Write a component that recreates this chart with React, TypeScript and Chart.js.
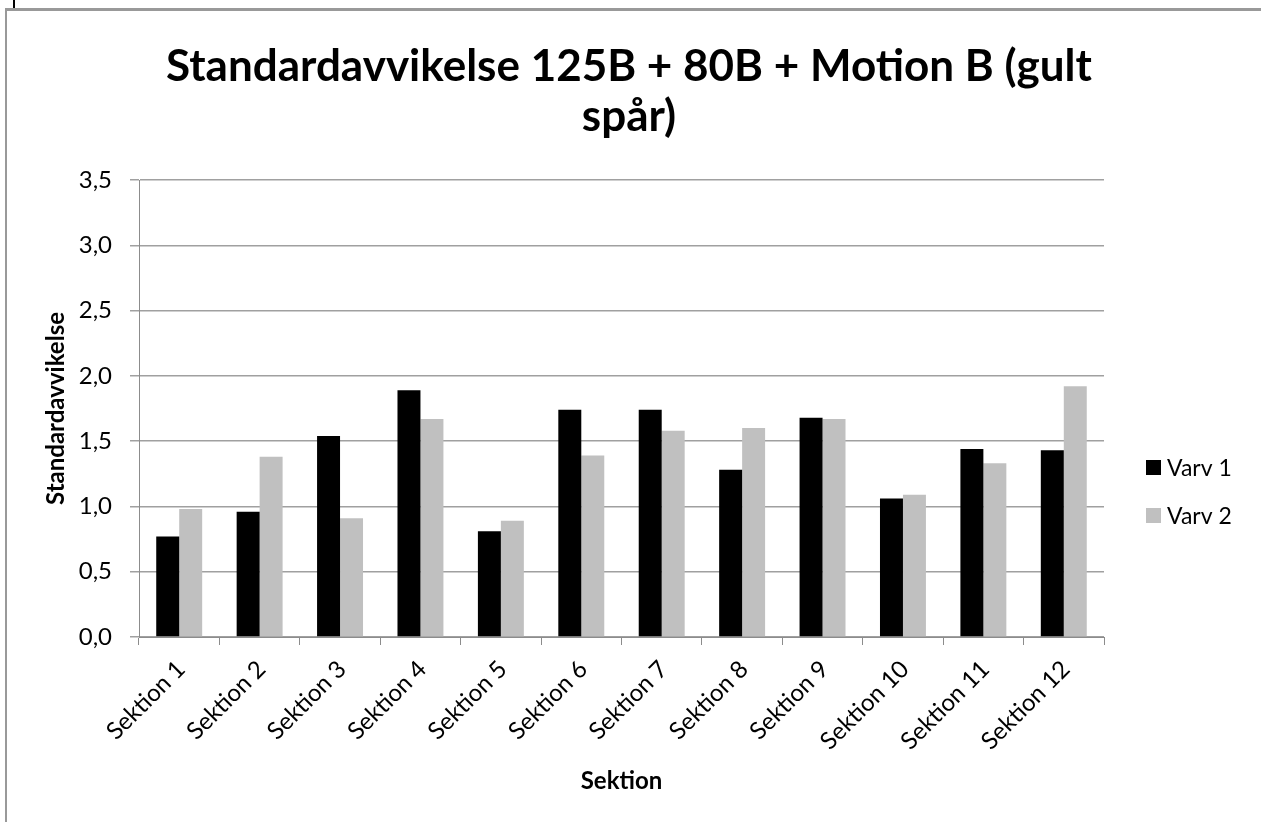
import React, { useEffect, useRef } from "react";
import { Chart, registerables } from "chart.js";

Chart.register(...registerables);

const categories = [
  "Sektion 1", "Sektion 2", "Sektion 3", "Sektion 4", "Sektion 5", "Sektion 6",
  "Sektion 7", "Sektion 8", "Sektion 9", "Sektion 10", "Sektion 11", "Sektion 12",
];
const varv1 = [0.77, 0.96, 1.54, 1.89, 0.81, 1.74, 1.74, 1.28, 1.68, 1.06, 1.44, 1.43];
const varv2 = [0.98, 1.38, 0.91, 1.67, 0.89, 1.39, 1.58, 1.6, 1.67, 1.09, 1.33, 1.92];
const seriesNames = ["Varv 1", "Varv 2"];
const seriesColors = ["#000000", "#c0c0c0"];
const titleLines = ["Standardavvikelse 125B + 80B + Motion B (gult", "spår)"];
const yTitle = "Standardavvikelse";
const xTitle = "Sektion";

const FONT = "Lato, 'Open Sans', sans-serif";

const titlePlugin = {
  id: "customTitle",
  afterDraw(chart: any) {
    const ctx = chart.ctx;
    ctx.save();
    ctx.fillStyle = "#000";
    ctx.font = `bold 44px ${FONT}`;
    ctx.textAlign = "center";
    ctx.textBaseline = "alphabetic";
    titleLines.forEach((line, i) => {
      ctx.fillText(line, 629, 81 + i * 50);
    });
    ctx.restore();
  },
};

const legendPlugin = {
  id: "customLegend",
  afterDraw(chart: any) {
    const ctx = chart.ctx;
    ctx.save();
    ctx.font = `23px ${FONT}`;
    ctx.textAlign = "left";
    ctx.textBaseline = "alphabetic";
    chart.data.datasets.forEach((ds: any, i: number) => {
      const y = 460 + i * 48;
      ctx.fillStyle = ds.backgroundColor;
      ctx.fillRect(1146, y, 15, 15);
      ctx.fillStyle = "#000";
      ctx.fillText(ds.label, 1167, y + 16);
    });
    ctx.restore();
  },
};

export default function App() {
  const canvasRef = useRef<HTMLCanvasElement | null>(null);

  useEffect(() => {
    if (!canvasRef.current) return;
    const chart = new Chart(canvasRef.current, {
      type: "bar",
      data: {
        labels: categories,
        datasets: [
          {
            label: seriesNames[0],
            data: varv1,
            backgroundColor: seriesColors[0],
            categoryPercentage: 2 / 3.5,
            barPercentage: 1,
          },
          {
            label: seriesNames[1],
            data: varv2,
            backgroundColor: seriesColors[1],
            categoryPercentage: 2 / 3.5,
            barPercentage: 1,
          },
        ],
      },
      options: {
        animation: false,
        responsive: false,
        maintainAspectRatio: false,
        layout: { padding: { top: 180, right: 157, bottom: 0, left: 0 } },
        plugins: {
          legend: { display: false },
          title: { display: false },
          tooltip: { enabled: false },
        },
        scales: {
          x: {
            type: "category",
            offset: true,
            grid: {
              display: true,
              drawOnChartArea: false,
              drawTicks: true,
              tickLength: 8,
              color: "#8c8c8c",
              offset: true,
            },
            border: { display: true, color: "#8c8c8c", width: 1 },
            ticks: {
              autoSkip: false,
              minRotation: 45,
              maxRotation: 45,
              color: "#000",
              padding: 10,
              labelOffset: 2,
              font: { family: FONT, size: 24 },
            },
            title: {
              display: true,
              text: xTitle,
              color: "#000",
              font: { family: FONT, size: 24, weight: "bold" },
              padding: { top: 0, bottom: 26 },
            },
            afterFit: (s: any) => {
              s.height = 185;
            },
          },
          y: {
            min: 0,
            max: 3.5,
            grid: {
              color: "#a0a0a0",
              lineWidth: 1.5,
              drawTicks: true,
              tickLength: 9,
            },
            border: { display: true, color: "#8c8c8c", width: 1 },
            ticks: {
              stepSize: 0.5,
              color: "#000",
              padding: 18,
              font: { family: FONT, size: 24 },
              callback: (v: any) => Number(v).toFixed(1).replace(".", ","),
            },
            title: {
              display: true,
              text: yTitle,
              color: "#000",
              font: { family: FONT, size: 24, weight: "bold" },
              padding: { top: 42, bottom: 0 },
            },
            afterFit: (s: any) => {
              s.width = 139;
            },
          },
        },
      },
      plugins: [titlePlugin, legendPlugin],
    });
    return () => chart.destroy();
  }, []);

  return (
    <div style={{ position: "fixed", left: 0, top: 0, width: 1261, height: 822, overflow: "hidden", background: "#fff" }}>
      <div style={{ position: "absolute", left: 13, top: 0, width: 2, height: 8, background: "#000" }} />
      <div
        style={{
          position: "absolute",
          left: 5,
          top: 8,
          width: 1256,
          height: 814,
          borderTop: "3px solid #999",
          borderLeft: "2px solid #999",
          boxSizing: "border-box",
        }}
      />
      <canvas
        ref={canvasRef}
        width={1261}
        height={822}
        style={{ position: "absolute", left: 0, top: 0, width: 1261, height: 822 }}
      />
    </div>
  );
}
